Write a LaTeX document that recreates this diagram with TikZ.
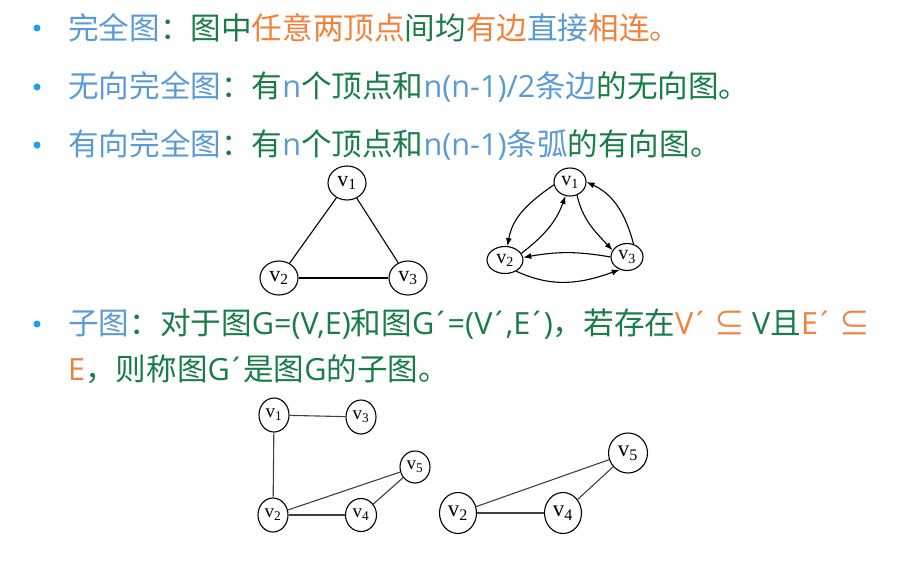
\documentclass[tikz,border=0pt]{standalone}
\usepackage{fontspec}
\setmainfont{Noto Sans CJK SC}
\newfontfamily\latfont{Open Sans}
\newfontfamily\vfont{Liberation Serif}
\usetikzlibrary{arrows.meta,shapes.geometric}
\definecolor{cblue}{RGB}{91,155,213}
\definecolor{cgreen}{RGB}{24,125,70}
\definecolor{corange}{RGB}{240,130,60}
\definecolor{cdot}{RGB}{30,160,232}
\newcommand{\hblue}[1]{\textcolor{cblue}{#1}}
\newcommand{\horange}[1]{\textcolor{corange}{#1}}
\newcommand{\la}[1]{{\latfont #1}}
\newcommand{\pr}{\kern-0.08em´\kern-0.06em}
\newcommand{\vlab}[1]{{\vfont v\textsubscript{#1}}}

\begin{document}
\begin{tikzpicture}[x=1pt, y=-1pt,
    txt/.style={anchor=west, inner sep=0pt, text=cgreen, font=\fontsize{30.6}{30.6}\selectfont},
    bulletdot/.style={circle, fill=cdot, inner sep=0pt, minimum size=7pt},
    vtx/.style={ellipse, draw, inner sep=0pt, line width=1.1pt},
    arc/.style={draw, -{Latex[length=8pt,width=6pt]}, line width=1.1pt}]
      \useasboundingbox (0,0) rectangle (912,560);
      %text
      \node[bulletdot] (d1) at (37, 28) {};
      \node[txt] (l1) at (68, 28) {\hblue{完全图}：图中\horange{任意两顶点}间均\horange{有边}\hblue{直接}\horange{相连。}};
      \node[bulletdot] (d2) at (37, 87) {};
      \node[txt] (l2) at (68, 87) {\hblue{无向完全图}：有\hblue{\la{n}}个顶点和\hblue{\la{n(n-1)/2}条边}的无向图。};
      \node[bulletdot] (d3) at (37, 145) {};
      \node[txt] (l3) at (68, 145) {\hblue{有向完全图}：有\hblue{\la{n}}个顶点和\hblue{\la{n(n-1)}条弧}的有向图。};
      \node[bulletdot] (d4) at (37, 324) {};
      \node[txt] (l4) at (68, 324) {\hblue{子图}：对于图\la{G=(V,E)}和图\la{G\pr=(V\pr,E\pr)}，若存在\horange{\la{V\pr\ }⊆ }\la{V}且\horange{\la{E\pr\ }⊆}};
      \node[txt] (l5) at (68, 369) {\horange{\la{E}}，则称图\la{G\pr}是图\la{G}的子图。};
      %undirected complete graph
      \node[vtx, minimum width=38pt, minimum height=34pt, font=\fontsize{22}{22}\selectfont] (a1) at (347, 183) {\vlab{1}};
      \node[vtx, minimum width=38pt, minimum height=34pt, font=\fontsize{22}{22}\selectfont] (a2) at (279, 278) {\vlab{2}};
      \node[vtx, minimum width=38pt, minimum height=34pt, font=\fontsize{22}{22}\selectfont] (a3) at (408, 278) {\vlab{3}};
      \path [draw, line width=1.1pt] (a1) -- (a2);
      \path [draw, line width=1.1pt] (a1) -- (a3);
      \path [draw, line width=1.1pt] (a2) -- (a3);
      %directed complete graph
      \node[vtx, minimum width=32pt, minimum height=28pt, font=\fontsize{20}{20}\selectfont] (b1) at (570, 182) {\vlab{1}};
      \node[vtx, minimum width=36pt, minimum height=27pt, font=\fontsize{20}{20}\selectfont] (b2) at (505, 260) {\vlab{2}};
      \node[vtx, minimum width=32pt, minimum height=27pt, font=\fontsize{20}{20}\selectfont] (b3) at (627, 257) {\vlab{3}};
      \path [arc] (b1.190) to[out=215, in=80] (b2.80);
      \path [arc] (b2.22) to[out=38, in=-110] (b1.-108);
      \path [arc] (b1.-62) to[out=-77, in=133] (b3.155);
      \path [arc] (b3.63) to[out=105, in=-25] (b1.0);
      \path [arc] (b3.180) to[out=170, in=10] (b2.8);
      \path [arc] (b2.-45) to[out=-25, in=200] (b3.-120);
      %graph G
      \node[vtx, minimum width=30pt, minimum height=34pt, font=\fontsize{19}{19}\selectfont] (c1) at (274, 415) {\vlab{1}};
      \node[vtx, minimum width=30pt, minimum height=34pt, font=\fontsize{19}{19}\selectfont] (c3) at (361, 417) {\vlab{3}};
      \node[vtx, minimum width=30pt, minimum height=32pt, font=\fontsize{19}{19}\selectfont] (c5) at (415, 467) {\vlab{5}};
      \node[vtx, minimum width=30pt, minimum height=34pt, font=\fontsize{19}{19}\selectfont] (c2) at (273, 515) {\vlab{2}};
      \node[vtx, minimum width=31pt, minimum height=33pt, font=\fontsize{19}{19}\selectfont] (c4) at (361, 515) {\vlab{4}};
      \path [draw, line width=1.1pt, black!75] (c1) -- (c3);
      \path [draw, line width=1.1pt, black!75] (c1) -- (c2);
      \path [draw, line width=1.1pt, black!75] (c2) -- (c4);
      \path [draw, line width=1.1pt, black!75] (c2) -- (c5);
      \path [draw, line width=1.1pt, black!75] (c4) -- (c5);
      %subgraph G'
      \node[vtx, minimum width=37pt, minimum height=41pt, font=\fontsize{23}{23}\selectfont] (e2) at (458, 513) {\vlab{2}};
      \node[vtx, minimum width=37pt, minimum height=41pt, font=\fontsize{23}{23}\selectfont] (e4) at (563, 513) {\vlab{4}};
      \node[vtx, minimum width=39pt, minimum height=40pt, font=\fontsize{23}{23}\selectfont] (e5) at (628, 453) {\vlab{5}};
      \path [draw, line width=1.1pt, black!75] (e2) -- (e4);
      \path [draw, line width=1.1pt, black!75] (e2) -- (e5);
      \path [draw, line width=1.1pt, black!75] (e4) -- (e5);
    \end{tikzpicture}
\end{document}
